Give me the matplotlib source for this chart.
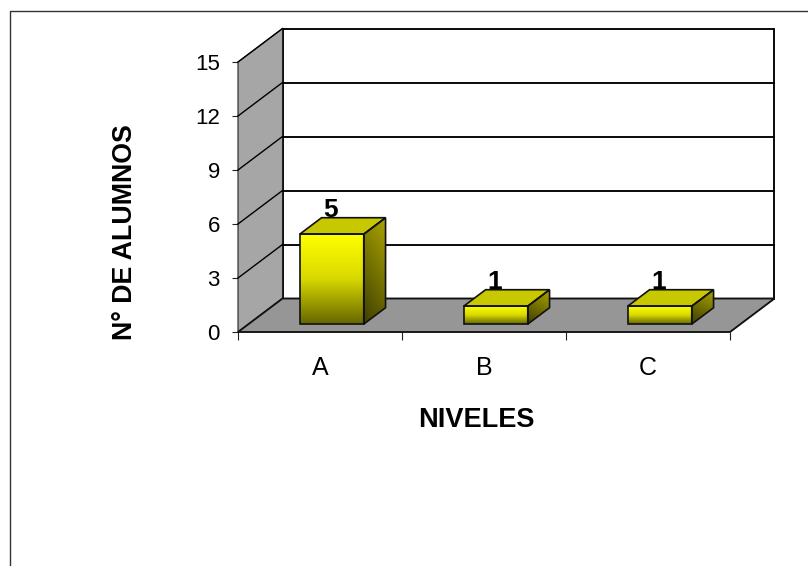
import numpy as np
import matplotlib
matplotlib.use("Agg")
import matplotlib.pyplot as plt
from matplotlib.colors import LinearSegmentedColormap
from matplotlib.lines import Line2D
from matplotlib.patches import Polygon

categories = ["A", "B", "C"]
values = [5, 1, 1]
y_ticks = [0, 3, 6, 9, 12, 15]
x_title = "NIVELES"
y_title = "N° DE ALUMNOS"

plt.rcParams["font.family"] = ["Liberation Sans", "DejaVu Sans"]
W, H = 808, 566
fig = plt.figure(figsize=(W / 100, H / 100), dpi=100, facecolor="white")
ax = fig.add_axes([238 / W, 1 - 332 / H, 492 / W, 270 / H])
ax.set_xlim(0, len(categories))
ax.set_ylim(0, y_ticks[-1])
ax.patch.set_alpha(0)
for s in ax.spines.values():
    s.set_visible(False)

# depth of the 3-D box, in data units
DX = 44.5 / 164
DY = 33.5 / 18
def P(x, y, t=1.0):
    return (x + t * DX, y + t * DY)

LW = 1.35
ymax = y_ticks[-1]
n = len(categories)
ax.add_patch(Polygon([P(0, 0), P(n, 0), P(n, ymax), P(0, ymax)], fc="white", ec="black", lw=LW, clip_on=False, zorder=1))
ax.add_patch(Polygon([P(0, 0, 0), P(0, ymax, 0), P(0, ymax), P(0, 0)], fc="#A6A6A6", ec="#222222", lw=0.8, clip_on=False, zorder=2))
ax.add_patch(Polygon([P(0, 0, 0), P(n, 0, 0), P(n, 0), P(0, 0)], fc="#969696", ec="#111111", lw=LW, clip_on=False, zorder=2))
for v in y_ticks[1:-1]:
    a, b, c = P(0, v, 0), P(0, v), P(n, v)
    ax.plot([a[0], b[0]], [a[1], b[1]], color="black", lw=1.0, clip_on=False, zorder=3)
    ax.plot([b[0], c[0]], [b[1], c[1]], color="black", lw=LW, clip_on=False, zorder=3)
a, b = P(0, ymax, 0), P(0, ymax)
ax.plot([a[0], b[0]], [a[1], b[1]], color="black", lw=1.0, clip_on=False, zorder=3)

front_cm = LinearSegmentedColormap.from_list("f", ["#FFFF00", "#D8D800", "#666600"])
side_cm = LinearSegmentedColormap.from_list("s", ["#ABA500", "#3F3F00"])

WIDTH = 0.39
T0, T1 = 0.235, 0.725
SHIFT = 0.008
for i, v in enumerate(values):
    x0, x1 = i + 0.5 - WIDTH / 2 + SHIFT, i + 0.5 + WIDTH / 2 + SHIFT
    fr = [P(x0, 0, T0), P(x1, 0, T0), P(x1, v, T0), P(x0, v, T0)]
    sd = [P(x1, 0, T0), P(x1, 0, T1), P(x1, v, T1), P(x1, v, T0)]
    tp = [P(x0, v, T0), P(x1, v, T0), P(x1, v, T1), P(x0, v, T1)]
    # front face: vertical gradient
    g = np.linspace(0, 1, 128).reshape(-1, 1)
    im = ax.imshow(g, cmap=front_cm, aspect="auto", origin="upper", zorder=5,
                   extent=(fr[0][0], fr[1][0], fr[0][1], fr[2][1]))
    im.set_clip_path(Polygon(fr, transform=ax.transData))
    # side face: vertical gradient clipped to the parallelogram
    ys = [p[1] for p in sd]
    xs = [p[0] for p in sd]
    yy, xx = np.mgrid[0:1:128j, 0:1:32j]
    im2 = ax.imshow(0.75 * yy + 0.25 * (1 - xx), cmap=side_cm, aspect="auto", origin="upper", zorder=5,
                    extent=(min(xs), max(xs), min(ys), max(ys)), vmin=0, vmax=1)
    im2.set_clip_path(Polygon(sd, transform=ax.transData))
    ax.add_patch(Polygon(tp, fc="#C8C800", ec="none", clip_on=False, zorder=5))
    for poly in (fr, sd, tp):
        ax.add_patch(Polygon(poly, fc="none", ec="#111111", lw=1.2, clip_on=False, zorder=6))
    lx, ly = P(i + 0.5 + SHIFT, v, T0)
    ax.annotate(str(v), (lx, ly), xytext=(-0.7, 17.5), textcoords="offset points",
                ha="center", va="center", fontsize=19, fontweight="bold", color="black", zorder=4, annotation_clip=False)

ax.set_xlim(0, n)
ax.set_ylim(0, ymax)
ax.set_xticks(range(n + 1))
ax.set_xticklabels([])
ax.set_xticks(np.arange(n) + 0.5, labels=categories, minor=True)
ax.set_yticks(y_ticks)
ax.tick_params(axis="x", which="major", length=6, width=0.8, color="#222222")
ax.tick_params(axis="x", which="minor", length=0, pad=17, labelsize=18)
ax.tick_params(axis="y", length=4, width=0.8, color="#222222", pad=9, labelsize=16)
ax.set_xlabel(x_title, fontsize=19.5, fontweight="bold")
ax.set_ylabel(y_title, fontsize=19.3, fontweight="bold")
ax.xaxis.set_label_coords((476 - 238) / 492, -(420 - 332) / 270)
ax.yaxis.set_label_coords((125 - 238) / 492, (332 - 232) / 270)
ax.xaxis.label.set_va("center")
ax.yaxis.label.set_va("center")

# picture frame: top and left edges only
fig.add_artist(Line2D([9.5 / W, 9.5 / W, 1], [0, 1 - 10.5 / H, 1 - 10.5 / H], color="#333333", lw=1.0))

fig.savefig("out.png", dpi=100, facecolor="white")
